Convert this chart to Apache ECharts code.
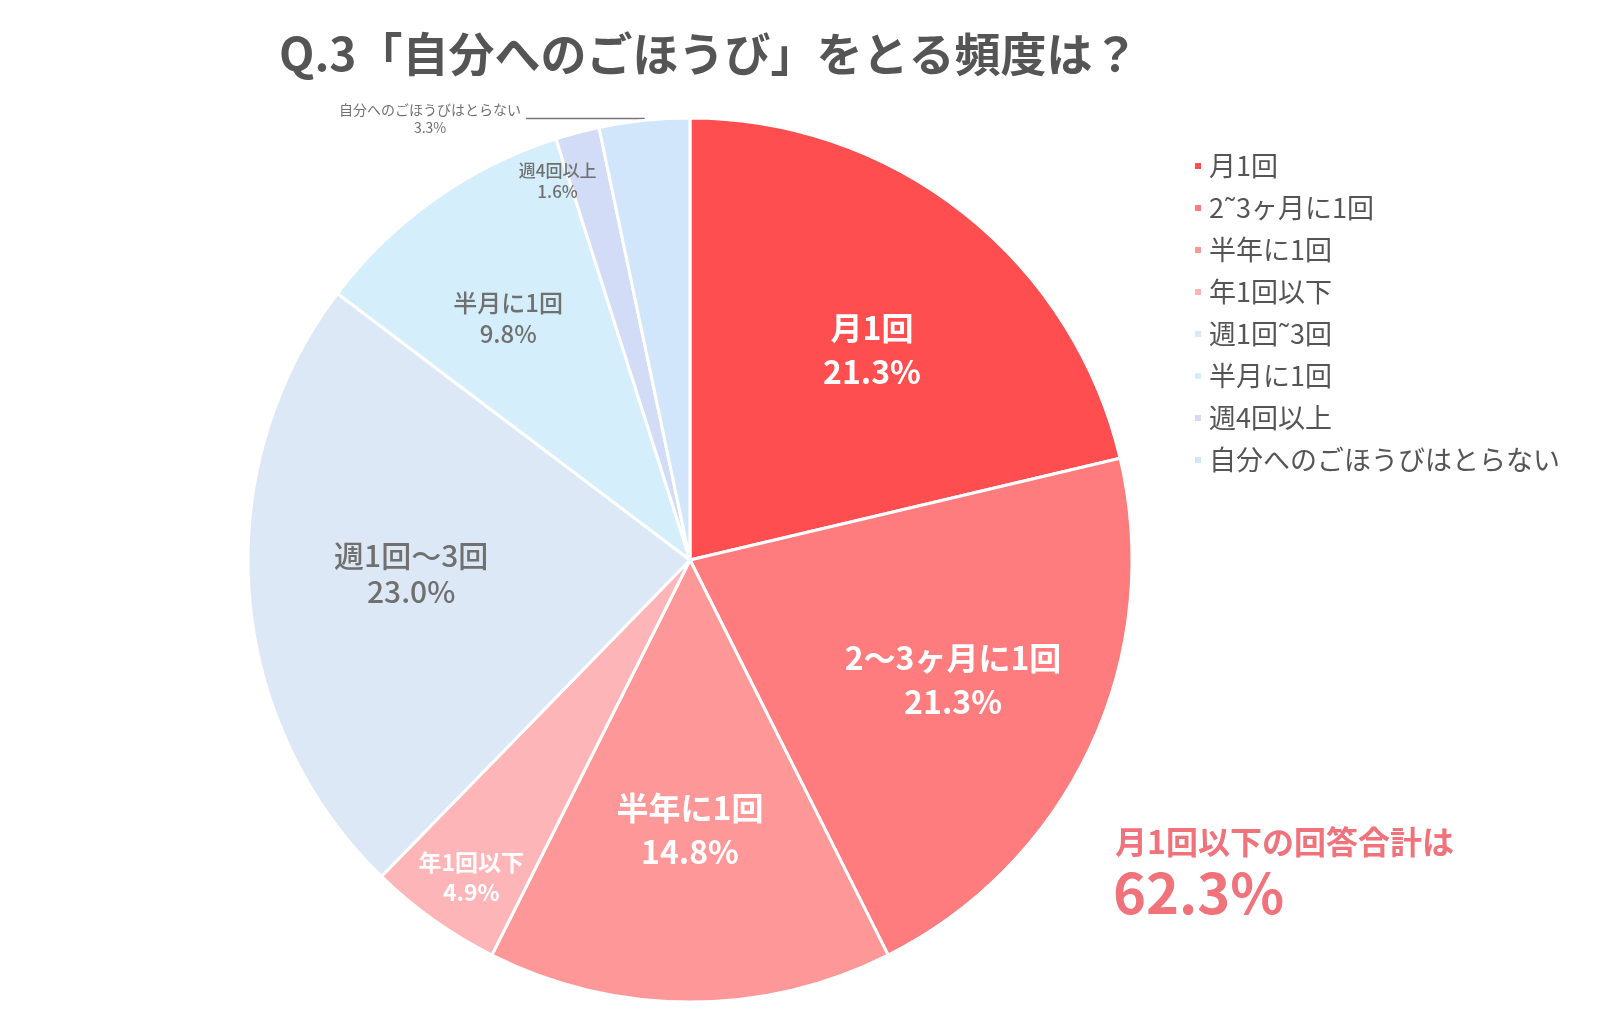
<!DOCTYPE html>
<html lang="ja">
<head>
<meta charset="UTF-8">
<title>Q.3</title>
<script src="https://cdn.jsdelivr.net/npm/echarts@6/dist/echarts.min.js"></script>
<style>
  html, body { margin: 0; padding: 0; background: #fff; }
  #chart { width: 1600px; height: 1033px; }
</style>
</head>
<body>
<div id="chart"></div>
<script>
// データ
var categories = ['月1回', '2˜3ヶ月に1回', '半年に1回', '年1回以下', '週1回˜3回', '半月に1回', '週4回以上', '自分へのごほうびはとらない'];
var labelNames = ['月1回', '2～3ヶ月に1回', '半年に1回', '年1回以下', '週1回～3回', '半月に1回', '週4回以上', '自分へのごほうびはとらない'];
var values = [21.3, 21.3, 14.8, 4.9, 23.0, 9.8, 1.6, 3.3];
var colors = ['#ff4e50', '#fe7b7e', '#fe9898', '#fdb5b7', '#dce8f5', '#d5eefb', '#d2dcf6', '#d1e6fb'];
// 月1回以下 = 先頭4項目
var lowCount = 4;

var font = '"Noto Sans CJK JP", "Noto Sans", sans-serif';
var center = [690, 560];
var R = 442;

var chart = echarts.init(document.getElementById('chart'));

// ラベルの見た目（項目ごと）
var bigLabel = [
  { color: '#fff', fontSize: 32, fontWeight: 'bold', lineHeight: 44, offset: [6, 12] },
  { color: '#fff', fontSize: 32, fontWeight: 'bold', lineHeight: 44, offset: [6, 0] },
  { color: '#fff', fontSize: 32, fontWeight: 'bold', lineHeight: 44, offset: [0, -14] },
  null,
  { color: '#707070', fontSize: 30, fontWeight: 500, lineHeight: 36, offset: [4, -8] },
  { color: '#707070', fontSize: 24, fontWeight: 500, lineHeight: 31, offset: [-18, -10] },
  null,
  null
];
var smallLabel = [null, null, null,
  { color: '#fff', fontSize: 23, fontWeight: 'bold', lineHeight: 30, offset: [10, -4] },
  null, null,
  { color: '#707070', fontSize: 17, fontWeight: 500, lineHeight: 21, offset: [-32, 2] },
  null
];

function labelData(styles) {
  return values.map(function (v, i) {
    var s = styles[i];
    return {
      name: categories[i],
      value: v,
      label: s ? Object.assign({ show: true, position: 'inside', fontFamily: font }, s) : { show: false }
    };
  });
}

var mainData = values.map(function (v, i) {
  var d = { name: categories[i], value: v, itemStyle: { color: colors[i] } };
  if (i === values.length - 1) {
    d.label = {
      show: true,
      position: 'outside',
      color: '#707070',
      fontFamily: font,
      formatter: function (p) {
        return '{a|' + labelNames[p.dataIndex] + '}\n{b|' + p.value.toFixed(1) + '%}';
      },
      rich: {
        a: { fontSize: 14, color: '#707070', fontFamily: font, lineHeight: 18 },
        b: { fontSize: 14, color: '#707070', fontFamily: font, lineHeight: 18, width: 172, align: 'center' }
      }
    };
    d.labelLine = { show: true, length: 2, length2: 118, lineStyle: { color: '#777', width: 1.5 } };
  }
  return d;
});

var lowTotal = values.slice(0, lowCount).reduce(function (a, b) { return a + b; }, 0);

var fmt = function (p) {
  return labelNames[p.dataIndex] + '\n' + p.value.toFixed(1) + '%';
};

var option = {
  backgroundColor: '#fff',
  color: colors,
  title: {
    text: 'Q.3「自分へのごほうび」をとる頻度は？',
    left: 274,
    top: 26,
    textStyle: { fontFamily: font, fontSize: 46, fontWeight: 'bold', color: '#555' }
  },
  legend: {
    orient: 'vertical',
    left: 1188,
    top: 146,
    icon: 'rect',
    itemWidth: 8,
    itemHeight: 8,
    itemGap: 12,
    data: categories,
    textStyle: { fontFamily: font, fontSize: 27, color: '#555', lineHeight: 30, padding: [0, 0, 0, 2] }
  },
  graphic: [
    {
      type: 'text',
      left: 1115,
      top: 826,
      style: { text: '月1回以下の回答合計は', font: 'bold 32px ' + font, fill: '#f0727a' }
    },
    {
      type: 'text',
      left: 1113,
      top: 865,
      style: { text: lowTotal.toFixed(1) + '%', font: 'bold 56px ' + font, fill: '#f0727a' }
    }
  ],
  series: [
    {
      name: 'main',
      type: 'pie',
      center: center,
      radius: [0, R],
      startAngle: 90,
      clockwise: true,
      avoidLabelOverlap: false,
      itemStyle: { borderColor: '#fff', borderWidth: 3 },
      label: { show: false },
      labelLine: { show: false },
      emphasis: { disabled: true },
      data: mainData
    },
    {
      name: 'labels',
      type: 'pie',
      center: center,
      radius: [0.27 * R, R],
      startAngle: 90,
      silent: true,
      avoidLabelOverlap: false,
      itemStyle: { color: 'rgba(0,0,0,0)', borderWidth: 0 },
      label: { formatter: fmt },
      labelLine: { show: false },
      emphasis: { disabled: true },
      data: labelData(bigLabel)
    },
    {
      name: 'labelsSmall',
      type: 'pie',
      center: center,
      radius: [0.77 * R, R],
      startAngle: 90,
      silent: true,
      avoidLabelOverlap: false,
      itemStyle: { color: 'rgba(0,0,0,0)', borderWidth: 0 },
      label: { formatter: fmt },
      labelLine: { show: false },
      emphasis: { disabled: true },
      data: labelData(smallLabel)
    }
  ]
};

chart.setOption(option);
</script>
</body>
</html>
